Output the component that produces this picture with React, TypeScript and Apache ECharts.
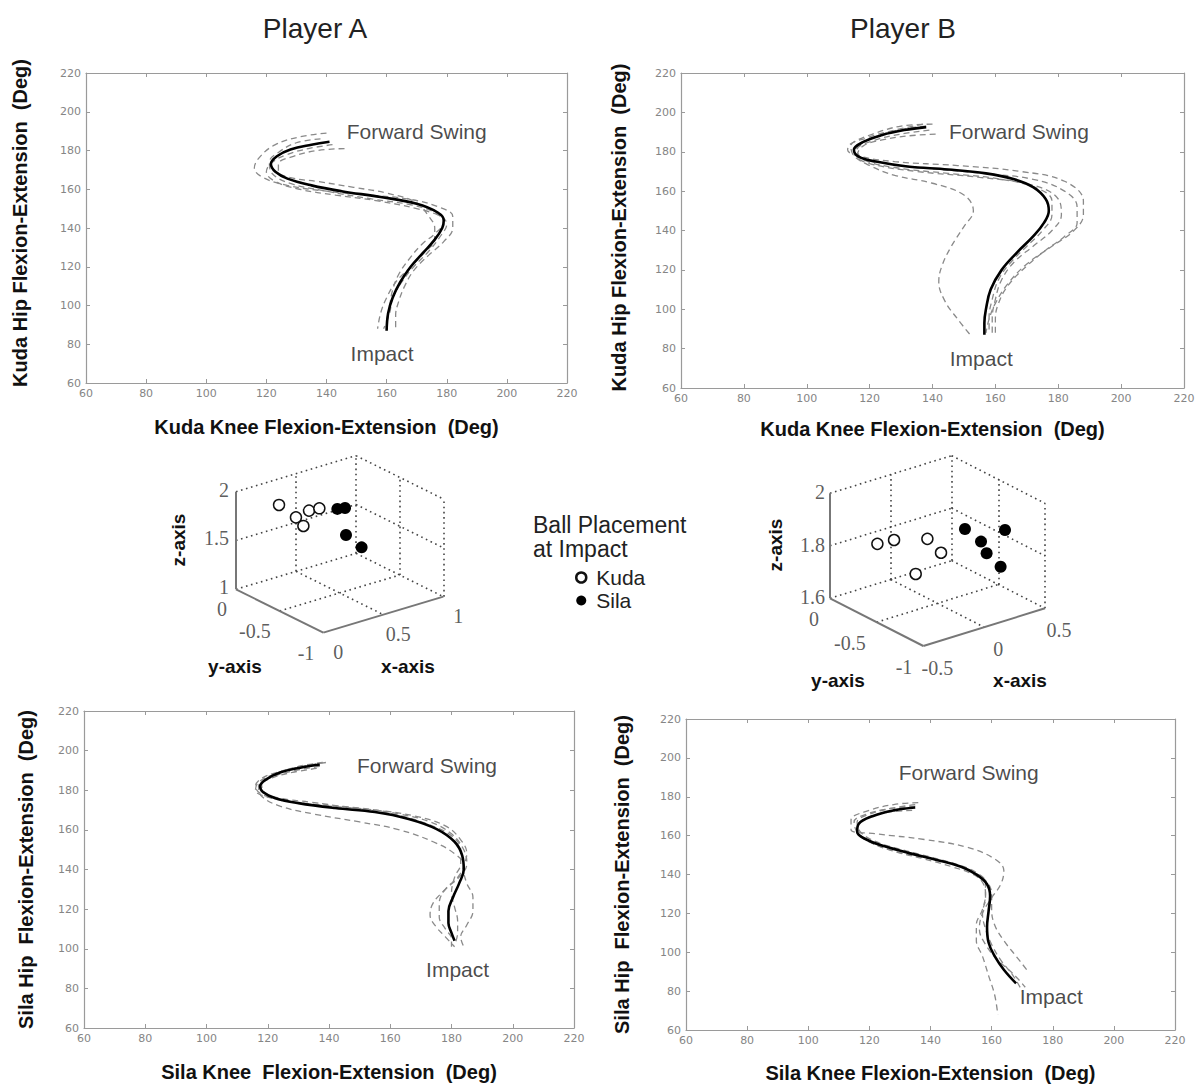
import React, { useEffect, useRef } from "react";
import * as echarts from "echarts";

// ---------------- 2D cyclogram data: [knee, hip] in degrees ----------------
const AXIS_MIN = 60;
const AXIS_MAX = 220;
const AXIS_STEP = 20;

const kudaA_mean = [[141,184.5],[135,183],[128,180.5],[123.5,177],[121.5,173],[123,169],[127,165.5],[135,162],[145,159],[158,156],[170,152.5],[177,148],[179,144],[178.5,140],[176,134],[172,127],[168,120],[164.5,112],[162,104],[160.5,96],[160,87]];
const kudaA_trial1 = [[140,189],[131,187],[123,183],[118,177],[116,171],[119,166],[127,162],[140,159],[154,157],[167,155],[177,151],[182,146],[182,140],[179,133],[174,126],[169,118],[166,110],[164,102],[163,95],[163,88]];
const kudaA_trial2 = [[146,181],[137,180],[129,177],[124,173],[124,169],[128,166],[137,164],[149,161],[160,158],[170,153],[174,146],[176,140],[176,134],[173,128],[168,120],[163,112],[160,104],[158,96],[157,88]];
const kudaA_trial3 = [[142,183],[134,181],[127,178],[122,174],[120,169],[123,164],[131,160],[143,157],[157,154],[170,150],[178,146],[180,142],[178,136],[174,128],[169,120],[165,112],[162,104],[161,96],[159,88]];
const kudaA_trial4 = [[138,186],[130,184],[124,179],[121,174],[122,168],[128,163],[140,159],[155,155],[168,152],[176,148],[179,143],[176,137],[172,132],[168,125],[164,116],[162,108],[161,100],[160,92]];

const kudaB_mean = [[138,192.5],[131,191],[124,188.5],[118,185],[115,181],[116.5,177.5],[122,175],[132,172.5],[145,171],[157,169],[166,166],[172,162],[176,156],[177,150],[175.5,144],[172,137],[167,129],[162,120],[158.5,110],[157,100],[156.5,93],[156.5,87]];
const kudaB_trial1 = [[140,194],[130,193],[121,189],[114,184],[113,181],[116,178],[128,175],[148,173],[168,170],[182,165],[188,155],[188,148],[185,140],[178,132],[170,123],[164,113],[160,103],[158,95],[157,88]];
const kudaB_trial2 = [[141,189],[132,188],[124,186],[118,183],[116,178],[120,174],[135,170],[155,167],[172,163],[180,156],[181,148],[178,140],[172,132],[166,124],[162,115],[160,105],[159,95],[159,87]];
const kudaB_trial3 = [[137,194],[128,191],[119,187],[114,183],[115,178],[120,173],[128,168],[140,164],[150,158],[153,150],[150,142],[146,132],[143,122],[142,114],[144,104],[148,95],[152,87]];
const kudaB_trial4 = [[138,193],[129,191],[121,187],[116,182],[116,178],[122,175],[136,172],[156,169],[172,166],[182,160],[186,152],[186,144],[182,137],[176,130],[170,122],[164,112],[161,103],[160,95],[160,88]];
const kudaB_trial5 = [[139,191],[130,189],[122,186],[116,181],[118,176],[128,172],[145,169],[162,166],[174,161],[178,155],[178,148],[175,140],[170,132],[165,124],[161,115],[159,105],[158,96],[158,88]];

const silaA_mean = [[137,193],[131,191.5],[124,189],[119.5,185.5],[117.5,182],[118.5,179],[122.5,176],[130,173.5],[142,171],[155,169],[166,165.5],[175,160.5],[181,154],[183.5,147],[184,140],[182.5,133],[180.5,126],[179,119],[179,113],[180,108],[181,104]];
const silaA_trial1 = [[139,194],[131,192],[123,189],[118,186],[116,182],[118,178],[125,175],[135,173],[150,171],[163,168],[173,164],[180,158],[184,150],[185,143],[183,137],[178,130],[174,123],[173,117],[175,111],[178,106],[181,101]];
const silaA_trial2 = [[138,194],[130,192],[122,188],[117,184],[116,180],[119,177],[128,174],[140,172],[155,170],[168,167],[178,162],[183,155],[185,148],[184,140],[185,133],[187,126],[187,119],[185,112],[183,106],[184,101]];
const silaA_trial3 = [[136,191],[128,189],[121,186],[117,182],[118,177],[124,172],[135,168],[150,164],[163,160],[174,154],[181,148],[184,142],[182,136],[178,130],[176,123],[176,116],[178,110],[180,105],[180,101]];
const silaA_trial4 = [[137,192],[129,190],[122,187],[118,183],[119,179],[124,176],[134,174],[148,171],[161,168],[172,163],[180,157],[183,150],[183,143],[181,136],[180,128],[181,121],[182,114],[182,108],[181,102]];

const silaB_mean = [[135,174.5],[128,173],[121,170],[116.5,166],[116,162],[119,158],[125,154.5],[133,151],[142,147.5],[150,144],[155,140],[158.5,135],[159.5,129],[159,121],[158.5,113],[159,105],[161,98],[164,91],[168,84]];
const silaB_trial1 = [[136,177],[128,176],[120,173],[114,168],[114,163],[122,161],[138,158],[152,154],[161,148],[164,142],[163,135],[160,128],[157,120],[156,112],[158,104],[162,96],[167,89],[171,82]];
const silaB_trial2 = [[135,175],[127,174],[119,171],[115,167],[116,162],[120,157],[128,152],[138,148],[147,144],[154,140],[157,136],[158,130],[157,122],[155,114],[155,106],[157,98],[159,88],[161,78],[162,68]];
const silaB_trial3 = [[134,173],[126,172],[119,169],[116,165],[117,160],[121,156],[128,152],[137,149],[146,146],[153,142],[158,137],[160,130],[160,122],[161,114],[164,106],[168,98],[172,90]];
const silaB_trial4 = [[135,176],[127,174],[120,171],[116,167],[117,162],[122,157],[130,153],[140,149],[149,145],[155,141],[158,136],[158,128],[157,120],[158,112],[160,104],[163,96],[167,88],[170,80]];

// annotation anchors [knee, hip]
const kudaA_notes = [["Forward Swing", 170, 190], ["Impact", 158.5, 75]];
const kudaB_notes = [["Forward Swing", 167.5, 190.5], ["Impact", 155.5, 75]];
const silaA_notes = [["Forward Swing", 172, 192.5], ["Impact", 182, 89.5]];
const silaB_notes = [["Forward Swing", 152.5, 192.5], ["Impact", 179.5, 77]];

// ---------------- 3D ball placement data: [x, y, z] ----------------
const ballA_kuda = [[0.213,-0.2,1.874],[0.354,-0.2,1.695],[0.416,-0.2,1.584],[0.463,-0.2,1.724],[0.549,-0.2,1.716]];
const ballA_sila = [[0.408,-0.6,1.939],[0.472,-0.6,1.925],[0.48,-0.6,1.646],[0.61,-0.6,1.471]];
const ballB_kuda = [[-0.264,-0.2,1.81],[-0.127,-0.2,1.805],[0.147,-0.2,1.77],[0.259,-0.2,1.701],[0.051,-0.2,1.65]];
const ballB_sila = [[0.149,-0.6,1.88],[0.478,-0.6,1.829],[0.281,-0.6,1.813],[0.327,-0.6,1.762],[0.442,-0.6,1.694]];

const ballA_xTicks = [0, 0.5, 1];
const ballA_yTicks = [0, -0.5, -1];
const ballA_zTicks = [1, 1.5, 2];
const ballB_xTicks = [-0.5, 0, 0.5];
const ballB_yTicks = [0, -0.5, -1];
const ballB_zTicks = [1.6, 1.8, 2];

// ---------------- layout ----------------
const panels = [
  { grid: { left: 86, top: 73, width: 481, height: 310 }, mean: kudaA_mean, trials: [kudaA_trial1, kudaA_trial2, kudaA_trial3, kudaA_trial4], notes: kudaA_notes,
    xName: "Kuda Knee Flexion-Extension  (Deg)", yName: "Kuda Hip Flexion-Extension  (Deg)", xGap: 34, yGap: 56, yPad: [0, 0, 0, 10] },
  { grid: { left: 681, top: 73, width: 503, height: 315 }, mean: kudaB_mean, trials: [kudaB_trial1, kudaB_trial2, kudaB_trial3, kudaB_trial4, kudaB_trial5], notes: kudaB_notes,
    xName: "Kuda Knee Flexion-Extension  (Deg)", yName: "Kuda Hip Flexion-Extension  (Deg)", xGap: 31, yGap: 52, yPad: [0, 0, 0, 6] },
  { grid: { left: 84, top: 711, width: 490, height: 317 }, mean: silaA_mean, trials: [silaA_trial1, silaA_trial2, silaA_trial3, silaA_trial4], notes: silaA_notes,
    xName: "Sila Knee  Flexion-Extension  (Deg)", yName: "Sila Hip  Flexion-Extension  (Deg)", xGap: 34, yGap: 48, yPad: [0, 0, 0, 0] },
  { grid: { left: 686, top: 719, width: 489, height: 311 }, mean: silaB_mean, trials: [silaB_trial1, silaB_trial2, silaB_trial3, silaB_trial4], notes: silaB_notes,
    xName: "Sila Knee Flexion-Extension  (Deg)", yName: "Sila Hip  Flexion-Extension  (Deg)", xGap: 33, yGap: 54, yPad: [0, 0, 0, 0] },
];

const AX = "#9a9a9a";
const TICKFONT = { color: "#858585", fontSize: 11, fontFamily: "DejaVu Sans" };
const NAMEFONT = { color: "#111", fontSize: 20, fontWeight: "bold", fontFamily: "Liberation Sans" };

// oblique projections of the two 3D boxes into local pixel frames
const projA = (p: number[]) => [76 + 120 * p[0] - 87.33 * p[1], 149.33 - 36 * p[0] - 43.33 * p[1] - 97.67 * (p[2] - 1)];
const projB = (p: number[]) => {
  const xx = p[0] + 0.5;
  return [70 + 121.67 * xx - 93.33 * p[1], 158.33 - 37.67 * xx - 47.67 * p[1] - 262.5 * (p[2] - 1.6)];
};

function boxSegments(xt: number[], yt: number[], zt: number[]) {
  const [x0, xm, x1] = xt;
  const [y0, ym, y1] = yt;
  const [z0, zm, z1] = zt;
  return {
    dotted: [
      [[x0, y0, z1], [x1, y0, z1]], [[x1, y0, z0], [x1, y0, z1]], [[x0, y0, z0], [x1, y0, z0]],
      [[xm, y0, z0], [xm, y0, z1]], [[x0, y0, zm], [x1, y0, zm]],
      [[x1, y0, z1], [x1, y1, z1]], [[x1, y1, z0], [x1, y1, z1]], [[x1, y0, z0], [x1, y1, z0]],
      [[x1, y0, zm], [x1, y1, zm]], [[x1, ym, z0], [x1, ym, z1]],
      [[x0, ym, z0], [x1, ym, z0]], [[xm, y0, z0], [xm, y1, z0]],
    ],
    solid: [
      [[x0, y0, z0], [x0, y0, z1]], [[x0, y0, z0], [x0, y1, z0]], [[x0, y1, z0], [x1, y1, z0]],
    ],
  };
}

function build3D(gi: number, proj: (p: number[]) => number[], xt: number[], yt: number[], zt: number[], kuda: number[][], sila: number[][], off: any) {
  const segs = boxSegments(xt, yt, zt);
  const common = { xAxisIndex: gi, yAxisIndex: gi, silent: true, animation: false };
  const labelSeries = (items: any[]) => ({
    ...common, type: "scatter", symbolSize: 0, z: 5,
    data: items,
    label: { show: true, fontFamily: "Liberation Serif", fontSize: 20, color: "#333" },
  });
  const x0 = xt[0], y0 = yt[0], y1 = yt[2], z0 = zt[0];
  return [
    { ...common, type: "lines", coordinateSystem: "cartesian2d",
      lineStyle: { color: "#444", width: 1.6, type: [1.6, 3.6], opacity: 1, curveness: 0 },
      data: segs.dotted.map((s) => ({ coords: [proj(s[0]), proj(s[1])] })) },
    { ...common, type: "lines", coordinateSystem: "cartesian2d",
      lineStyle: { color: "#777", width: 2, opacity: 1, curveness: 0 },
      data: segs.solid.map((s) => ({ coords: [proj(s[0]), proj(s[1])] })) },
    { ...common, type: "scatter", name: "Kuda", symbol: "circle", symbolSize: 11, z: 6,
      itemStyle: { color: "#fff", borderColor: "#111", borderWidth: 1.5, opacity: 1 },
      data: kuda.map(proj) },
    { ...common, type: "scatter", name: "Sila", symbol: "circle", symbolSize: 12, z: 6,
      itemStyle: { color: "#000", opacity: 1 },
      data: sila.map(proj) },
    labelSeries(zt.map((z) => ({ value: proj([x0, y0, z]), label: { formatter: String(z), position: off.z, align: "right", verticalAlign: "middle" } }))),
    labelSeries(yt.map((y) => ({ value: proj([x0, y, z0]), label: { formatter: String(y), position: off.y, align: "right", verticalAlign: "middle" } }))),
    labelSeries(xt.map((x) => ({ value: proj([x, y1, z0]), label: { formatter: String(x), position: off.x, align: "center", verticalAlign: "middle" } }))),
  ];
}

export default function App() {
  const ref = useRef<HTMLDivElement>(null);
  useEffect(() => {
    if (!ref.current) return;
    const chart = echarts.init(ref.current, undefined, { renderer: "svg" });

    const grids: any[] = [];
    const xAxes: any[] = [];
    const yAxes: any[] = [];
    const series: any[] = [];

    panels.forEach((p, i) => {
      grids.push({ ...p.grid, containLabel: false });
      const base = { type: "value", gridIndex: i, min: AXIS_MIN, max: AXIS_MAX, interval: AXIS_STEP, splitLine: { show: false },
        axisLine: { show: true, onZero: false, lineStyle: { color: AX, width: 1.2 } },
        axisTick: { show: true, inside: true, length: 4, lineStyle: { color: AX } } };
      xAxes.push({ ...base, position: "bottom", axisLabel: { ...TICKFONT, margin: 5 },
        name: p.xName, nameLocation: "middle", nameGap: p.xGap, nameTextStyle: NAMEFONT });
      xAxes.push({ ...base, position: "top", axisLabel: { show: false } });
      yAxes.push({ ...base, position: "left", axisLabel: { ...TICKFONT, margin: 5 },
        name: p.yName, nameLocation: "middle", nameGap: p.yGap, nameRotate: 90, nameTextStyle: { ...NAMEFONT, padding: p.yPad } });
      yAxes.push({ ...base, position: "right", axisLabel: { show: false } });
      const ax = { xAxisIndex: 2 * i, yAxisIndex: 2 * i };
      p.trials.forEach((t) => series.push({ ...ax, type: "line", data: t, smooth: 0.4, showSymbol: false, silent: true,
        lineStyle: { color: "#8a8a8a", width: 1.3, type: [6, 4] }, z: 2 }));
      series.push({ ...ax, type: "line", data: p.mean, smooth: 0.4, showSymbol: false, silent: true,
        lineStyle: { color: "#000", width: 2.6 }, z: 3 });
      series.push({ ...ax, type: "scatter", symbolSize: 0, silent: true, z: 4,
        data: p.notes.map((n) => ({ value: [n[1], n[2]], label: { formatter: n[0] } })),
        label: { show: true, position: "inside", fontFamily: "Liberation Sans", fontSize: 21, color: "#1a1a1a" } });
    });

    // 3D panels (grids 4 and 5, axes 8 and 9)
    grids.push({ left: 160, top: 440, width: 300, height: 240 });
    grids.push({ left: 760, top: 440, width: 300, height: 260 });
    xAxes.push({ type: "value", gridIndex: 4, min: 0, max: 300, show: false });
    xAxes.push({ type: "value", gridIndex: 5, min: 0, max: 300, show: false });
    yAxes.push({ type: "value", gridIndex: 4, min: 0, max: 240, inverse: true, show: false });
    yAxes.push({ type: "value", gridIndex: 5, min: 0, max: 260, inverse: true, show: false });

    series.push(...build3D(8, projA, ballA_xTicks, ballA_yTicks, ballA_zTicks, ballA_kuda, ballA_sila,
      { z: [-7, -2], y: [-9, 20], x: [15, 19] }));
    series.push(...build3D(9, projB, ballB_xTicks, ballB_yTicks, ballB_zTicks, ballB_kuda, ballB_sila,
      { z: [-5, -1], y: [-11, 21], x: [14, 22] }));

    const bold = { fontFamily: "Liberation Sans", fontWeight: "bold", fontSize: 19, fill: "#111" };
    chart.setOption({
      animation: false,
      backgroundColor: "#fff",
      grid: grids,
      xAxis: xAxes,
      yAxis: yAxes,
      series,
      legend: {
        data: [{ name: "Kuda", itemStyle: { borderWidth: 2.5 } }, "Sila"],
        orient: "vertical", left: 570, top: 562, itemWidth: 20, itemHeight: 10, itemGap: 2, icon: "circle",
        textStyle: { fontFamily: "Liberation Sans", fontSize: 21, color: "#222" }, selectedMode: false,
      },
      graphic: [
        { type: "text", x: 315, y: 28, style: { text: "Player A", font: "28px 'Liberation Sans'", fill: "#222", align: "center", verticalAlign: "middle" } },
        { type: "text", x: 903, y: 28, style: { text: "Player B", font: "28px 'Liberation Sans'", fill: "#222", align: "center", verticalAlign: "middle" } },
        { type: "text", x: 533, y: 525, style: { text: "Ball Placement", font: "23px 'Liberation Sans'", fill: "#222", align: "left", verticalAlign: "middle" } },
        { type: "text", x: 533, y: 549, style: { text: "at Impact", font: "23px 'Liberation Sans'", fill: "#222", align: "left", verticalAlign: "middle" } },
        { type: "text", x: 178, y: 540, rotation: Math.PI / 2, style: { text: "z-axis", ...bold, align: "center", verticalAlign: "middle" } },
        { type: "text", x: 235, y: 666, style: { text: "y-axis", ...bold, align: "center", verticalAlign: "middle" } },
        { type: "text", x: 408, y: 666, style: { text: "x-axis", ...bold, align: "center", verticalAlign: "middle" } },
        { type: "text", x: 775, y: 545, rotation: Math.PI / 2, style: { text: "z-axis", ...bold, align: "center", verticalAlign: "middle" } },
        { type: "text", x: 838, y: 680, style: { text: "y-axis", ...bold, align: "center", verticalAlign: "middle" } },
        { type: "text", x: 1020, y: 680, style: { text: "x-axis", ...bold, align: "center", verticalAlign: "middle" } },
      ],
    });
    return () => chart.dispose();
  }, []);
  return <div ref={ref} style={{ position: "absolute", left: 0, top: 0, width: 1198, height: 1084 }} />;
}
